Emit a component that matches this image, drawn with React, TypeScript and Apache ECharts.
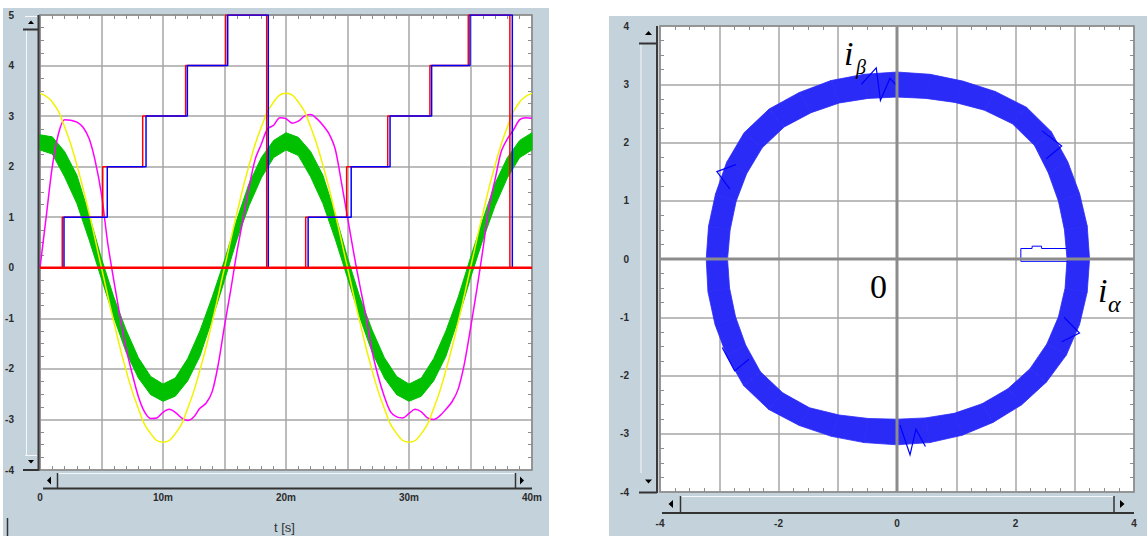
import React, { useEffect, useRef } from 'react';
import * as echarts from 'echarts';

// ---------------- Left chart (time domain) ----------------
const timeTickLabels = ['0', '', '10m', '', '20m', '', '30m', '', '40m']; // one per 5 ms
const ampTickLabels = ['-4', '-3', '-2', '-1', '0', '1', '2', '3', '4', '5'];

// yellow reference, sampled every 1 ms (0..40 ms)
const yellowValues = [
  3.45, 3.28, 2.79, 2.03, 1.07, 0, -1.07, -2.03, -2.79, -3.28,
  -3.45, -3.28, -2.79, -2.03, -1.07, 0, 1.07, 2.03, 2.79, 3.28,
  3.45, 3.28, 2.79, 2.03, 1.07, 0, -1.07, -2.03, -2.79, -3.28,
  -3.45, -3.28, -2.79, -2.03, -1.07, 0, 1.07, 2.03, 2.79, 3.28,
  3.45,
];

// magenta current, sampled every 0.5 ms (0..40 ms)
const magentaValues = [
  0.0, 1.0, 2.0, 2.65, 2.93, 2.92, 2.88, 2.78, 2.55, 2.1,
  1.45, 0.5, -0.25, -0.95, -1.6, -2.1, -2.55, -2.85, -2.98, -2.97,
  -2.86, -2.8, -2.86, -2.97, -3.02, -2.95, -2.78, -2.68, -2.45, -1.9,
  -1.15, -0.45, 0.3, 0.95, 1.6, 2.15, 2.45, 2.75, 2.82, 2.97,
  2.95, 2.86, 2.9, 3.0, 3.03, 2.95, 2.82, 2.65, 2.35, 1.7,
  1.0, 0.3, -0.35, -0.95, -1.65, -2.15, -2.55, -2.85, -2.95, -2.97,
  -2.88, -2.8, -2.85, -2.97, -3.0, -2.93, -2.8, -2.65, -2.4, -1.9,
  -1.2, -0.45, 0.35, 1.2, 1.75, 2.3, 2.55, 2.73, 2.93, 2.97,
  2.96,
];

// green noisy current: upper / lower envelope, every 1 ms
const greenUpper = [
  2.63, 2.59, 2.30, 1.83, 1.05, 0.18, -0.58, -1.23, -1.78, -2.15,
  -2.30, -2.18, -1.80, -1.25, -0.58, 0.15, 0.95, 1.67, 2.18, 2.52,
  2.67, 2.58, 2.30, 1.83, 1.07, 0.20, -0.58, -1.23, -1.78, -2.15,
  -2.30, -2.18, -1.80, -1.25, -0.58, 0.20, 0.95, 1.67, 2.18, 2.52,
  2.67,
];
const greenLower = [
  2.33, 2.25, 1.80, 1.27, 0.55, -0.22, -0.98, -1.67, -2.18, -2.51,
  -2.64, -2.54, -2.24, -1.75, -1.02, -0.25, 0.55, 1.23, 1.78, 2.18,
  2.33, 2.22, 1.80, 1.27, 0.57, -0.20, -0.98, -1.67, -2.18, -2.51,
  -2.64, -2.54, -2.24, -1.75, -1.02, -0.20, 0.55, 1.23, 1.78, 2.18,
  2.33,
];

// staircase signals
const stepLevels = [0, 1, 2, 3, 4, 5, 0, 1, 2, 3, 4, 5, 0, 0];
const redSwitchTimes = [0, 1.81, 5.1, 8.35, 11.84, 15.1, 18.43, 21.6, 24.93, 28.27, 31.7, 34.82, 38.2, 40];
const blueSwitchTimes = [0, 1.95, 5.47, 8.62, 11.98, 15.26, 18.56, 21.8, 25.3, 28.46, 31.84, 34.96, 38.4, 40];
const zeroLineTimes = [0, 40];

// ---------------- Right chart (i_alpha / i_beta) ----------------
const alphaTickLabels = ['-4', '', '-2', '', '0', '', '2', '', '4'];
const betaTickLabels = ['-4', '-3', '-2', '-1', '0', '1', '2', '3', '4'];

const ringAnglesDeg = [
  0, 10, 20, 30, 40, 50, 60, 70, 80, 90, 100, 110, 120, 130, 140, 150, 160, 170,
  180, 190, 200, 210, 220, 230, 240, 250, 260, 270, 280, 290, 300, 310, 320, 330, 340, 350,
];
const ringInner = [
  2.87, 2.87, 2.9, 2.95, 3.03, 3.03, 2.95, 2.86, 2.8, 2.78, 2.8, 2.85, 2.9, 2.96, 2.97, 2.93, 2.89, 2.86,
  2.86, 2.87, 2.9, 2.95, 3.01, 3.0, 2.95, 2.85, 2.78, 2.75, 2.77, 2.82, 2.87, 2.91, 2.93, 2.92, 2.9, 2.88,
];
const ringOuter = [
  3.25, 3.26, 3.28, 3.33, 3.4, 3.4, 3.32, 3.25, 3.22, 3.21, 3.22, 3.26, 3.3, 3.36, 3.37, 3.32, 3.26, 3.23,
  3.22, 3.24, 3.27, 3.32, 3.38, 3.37, 3.3, 3.24, 3.2, 3.19, 3.2, 3.22, 3.24, 3.27, 3.29, 3.3, 3.28, 3.26,
];

const spikePaths = [
  [[-0.6, 3.0], [-0.35, 3.28], [-0.28, 2.72], [-0.12, 3.1], [0.02, 2.95]],
  [[0.05, -2.85], [0.22, -3.36], [0.32, -2.92], [0.48, -3.22]],
  [[-2.82, 1.2], [-3.04, 1.5], [-2.72, 1.62]],
  [[2.45, 2.2], [2.78, 1.94], [2.52, 1.72]],
  [[2.82, -1.0], [3.08, -1.27], [2.78, -1.42]],
  [[-2.95, -1.52], [-2.74, -1.92], [-2.5, -1.72]],
];

const startupAlpha = [2.86, 2.44, 2.44, 2.28, 2.28, 2.09, 2.09, 2.88];
const startupBeta = [0.18, 0.18, 0.22, 0.22, 0.18, 0.18, -0.04, -0.04];

// ---------------- styling helpers ----------------
const PANEL = '#c4d2db';
const DARK = '#333';
const GRID = '#a6a6a6';
const TICK = '#8c8c8c';
const labelFont = { fontFamily: 'Liberation Sans, Arial, sans-serif', fontWeight: 'bold' as const, fontSize: 10, color: '#2b2b2b' };

const rect = (x: number, y: number, w: number, h: number, fill: string, z = -10) =>
  ({ type: 'rect', shape: { x, y, width: w, height: h }, style: { fill }, z, silent: true });
const ln = (x1: number, y1: number, x2: number, y2: number, stroke: string, lw = 1, z = 10) =>
  ({ type: 'line', shape: { x1, y1, x2, y2 }, style: { stroke, lineWidth: lw }, z, silent: true });
const tri = (points: number[][], z = 11) =>
  ({ type: 'polygon', shape: { points }, style: { fill: '#000' }, z, silent: true });
const txt = (x: number, y: number, text: string, font: string, align = 'left') =>
  ({ type: 'text', x, y, z: 20, silent: true, style: { text, font, fill: '#000', align, verticalAlign: 'middle' } });

function valueAxis(grid: number, pos: string, min: number, max: number, interval: number, minorSplit: number, labels: string[] | null, margin: number, split: boolean, axisColor: string, axisWidth: number) {
  return {
    type: 'value', gridIndex: grid, position: pos, min, max, interval,
    axisLine: { show: true, onZero: false, lineStyle: { color: axisColor, width: axisWidth } },
    axisTick: { show: false, inside: true },
    minorTick: { show: true, splitNumber: minorSplit, length: 4, lineStyle: { color: TICK, width: 1 } },
    minorSplitLine: { show: false },
    splitLine: { show: split, lineStyle: { color: GRID, width: 1.5 } },
    axisLabel: labels
      ? { show: true, margin, ...labelFont, showMinLabel: true, showMaxLabel: true, hideOverlap: false,
          formatter: (v: number) => labels[Math.round((v - min) / interval)] ?? '' }
      : { show: false },
  };
}

export default function App() {
  const ref = useRef<HTMLDivElement>(null);

  useEffect(() => {
    if (!ref.current) return;
    const chart = echarts.init(ref.current, undefined, { renderer: 'svg' });

    const magentaData = magentaValues.map((v, i) => [i * 0.5, v]);
    const yellowData = yellowValues.map((v, i) => [i, v]);
    const redData = redSwitchTimes.map((t, i) => [t, stepLevels[i]]);
    const blueData = blueSwitchTimes.map((t, i) => [t, stepLevels[i]]);
    const zeroData = zeroLineTimes.map((t) => [t, 0]);
    const startupData = startupAlpha.map((a, i) => [a, startupBeta[i]]);
    const ringData = ringAnglesDeg.map((_, i) => [0, 0, i]);

    const decor: any[] = [
      // panels
      rect(3, 8, 546, 528, PANEL),
      rect(609, 16, 538, 520, PANEL),
      // ---- left vertical scrollbar
      ln(26.5, 29, 26.5, 455, '#f4f8fa', 1),
      ln(25, 16.5, 37, 16.5, '#f4f8fa', 1),
      tri([[28, 24], [34, 24], [31, 20.5]]),
      ln(23, 29.5, 38, 29.5, DARK, 2),
      ln(25, 455.5, 37, 455.5, '#f4f8fa', 1),
      tri([[28, 460], [34, 460], [31, 463.5]]),
      ln(23, 470, 38, 470, DARK, 2),
      ln(38.5, 15, 38.5, 471, '#3a3a3a', 2),
      // ---- left horizontal scrollbar
      ln(57, 473.5, 515, 473.5, '#f4f8fa', 1),
      tri([[51, 476.5], [51, 484.5], [47, 480.5]]),
      ln(57.5, 473, 57.5, 488, DARK, 1.5),
      tri([[520, 476.5], [520, 484.5], [524, 480.5]]),
      ln(515.5, 473, 515.5, 488, DARK, 1.5),
      ln(43, 488.5, 532, 488.5, DARK, 2),
      ln(7.5, 518, 7.5, 536, DARK, 1.5),
      // ---- right vertical scrollbar
      ln(641, 43, 641, 473, '#f4f8fa', 1),
      tri([[645, 35], [652, 35], [648.5, 31]]),
      ln(639, 43.5, 657, 43.5, DARK, 2),
      tri([[645, 479.5], [652, 479.5], [648.5, 483.5]]),
      ln(639, 492.5, 657, 492.5, DARK, 2),
      ln(657, 26, 657, 493, '#3a3a3a', 2),
      // ---- right horizontal scrollbar
      ln(680, 496.5, 1114, 496.5, '#f4f8fa', 1),
      tri([[673, 500], [673, 508], [668.5, 504]]),
      ln(680.5, 496, 680.5, 513, DARK, 1.5),
      tri([[1120, 500], [1120, 508], [1124.5, 504]]),
      ln(1114, 496, 1114, 513, DARK, 1.5),
      ln(662, 513, 1134, 513, DARK, 2),
      // ---- texts
      { type: 'text', x: 284.5, y: 527.5, z: 20, silent: true,
        style: { text: 't [s]', font: '13px "Liberation Sans", Arial, sans-serif', fill: '#333', align: 'center', verticalAlign: 'middle' } },
      txt(844, 53.5, 'i', 'italic 34px "Liberation Serif", "DejaVu Serif", serif'),
      txt(856, 67, 'β', 'italic 20px "Liberation Serif", "DejaVu Serif", serif'),
      txt(878.5, 286.5, '0', '34px "Liberation Serif", "DejaVu Serif", serif', 'center'),
      txt(1098, 290.5, 'i', 'italic 34px "Liberation Serif", "DejaVu Serif", serif'),
      txt(1108, 304, 'α', 'italic 24px "Liberation Serif", "DejaVu Serif", serif'),
    ];

    const option: any = {
      animation: false,
      backgroundColor: '#ffffff',
      graphic: { elements: decor },
      grid: [
        { left: 40, top: 15, width: 492, height: 455, show: true, backgroundColor: '#fff', borderWidth: 0, outerBoundsMode: 'none', containLabel: false },
        { left: 660, top: 26, width: 474, height: 466, show: true, backgroundColor: '#fff', borderWidth: 0, outerBoundsMode: 'none', containLabel: false },
      ],
      xAxis: [
        valueAxis(0, 'bottom', 0, 40, 5, 5, timeTickLabels, 22, true, '#8a8a8a', 1.5),
        valueAxis(0, 'top', 0, 40, 5, 5, null, 0, false, '#8a8a8a', 1.5),
        valueAxis(1, 'bottom', -4, 4, 1, 4, alphaTickLabels, 26, true, '#8a8a8a', 1.5),
        valueAxis(1, 'top', -4, 4, 1, 4, null, 0, false, '#8a8a8a', 1.5),
      ],
      yAxis: [
        valueAxis(0, 'left', -4, 5, 1, 4, ampTickLabels, 26, true, '#8a8a8a', 1.5),
        valueAxis(0, 'right', -4, 5, 1, 4, null, 0, false, '#8a8a8a', 1.5),
        valueAxis(1, 'left', -4, 4, 1, 4, betaTickLabels, 31, true, '#8a8a8a', 1.5),
        valueAxis(1, 'right', -4, 4, 1, 4, null, 0, false, '#8a8a8a', 1.5),
      ],
      series: [
        // ---- left
        {
          type: 'custom', name: 'green', xAxisIndex: 0, yAxisIndex: 0, z: 2, silent: true,
          data: [[20, 0]],
          renderItem: (_p: any, api: any) => {
            const pts: number[][] = [];
            greenUpper.forEach((v, i) => pts.push(api.coord([i, v])));
            for (let i = greenLower.length - 1; i >= 0; i--) pts.push(api.coord([i, greenLower[i]]));
            return { type: 'polygon', shape: { points: pts }, style: { fill: '#00c000', stroke: '#00c000', lineWidth: 1 } };
          },
        },
        { type: 'line', name: 'magenta', xAxisIndex: 0, yAxisIndex: 0, z: 3, data: magentaData, showSymbol: false, symbol: 'none', smooth: 0.3,
          lineStyle: { color: '#ff00ff', width: 1.5 } },
        { type: 'line', name: 'yellow', xAxisIndex: 0, yAxisIndex: 0, z: 4, data: yellowData, showSymbol: false, symbol: 'none', smooth: true,
          lineStyle: { color: '#f2f200', width: 1.5 } },
        { type: 'line', name: 'red', xAxisIndex: 0, yAxisIndex: 0, z: 5, data: redData, step: 'end', showSymbol: false, symbol: 'none',
          lineStyle: { color: '#ff0000', width: 1.5 } },
        { type: 'line', name: 'blue', xAxisIndex: 0, yAxisIndex: 0, z: 6, data: blueData, step: 'end', showSymbol: false, symbol: 'none',
          lineStyle: { color: '#0000ff', width: 1.5 } },
        { type: 'line', name: 'zero', xAxisIndex: 0, yAxisIndex: 0, z: 7, data: zeroData, showSymbol: false, symbol: 'none',
          lineStyle: { color: '#ff0000', width: 2.5 } },
        // ---- right
        {
          type: 'custom', name: 'ring', xAxisIndex: 2, yAxisIndex: 2, z: 2, silent: true,
          data: ringData,
          renderItem: (p: any, api: any) => {
            const n = ringAnglesDeg.length;
            const i = p.dataIndex;
            const j = (i + 1) % n;
            const a0 = (ringAnglesDeg[i] * Math.PI) / 180;
            const a1 = ((ringAnglesDeg[j] + (j === 0 ? 360 : 0)) * Math.PI) / 180;
            const pts = [
              [ringOuter[i] * Math.cos(a0), ringOuter[i] * Math.sin(a0)],
              [ringOuter[j] * Math.cos(a1), ringOuter[j] * Math.sin(a1)],
              [ringInner[j] * Math.cos(a1), ringInner[j] * Math.sin(a1)],
              [ringInner[i] * Math.cos(a0), ringInner[i] * Math.sin(a0)],
            ].map((q) => api.coord(q));
            return { type: 'polygon', shape: { points: pts }, style: { fill: '#2b2bf7', stroke: '#2b2bf7', lineWidth: 0.8 } };
          },
        },
        {
          type: 'custom', name: 'spikes', xAxisIndex: 2, yAxisIndex: 2, z: 3, silent: true,
          data: spikePaths.map((_, i) => [0, 0, i]),
          renderItem: (p: any, api: any) => ({
            type: 'polyline',
            shape: { points: spikePaths[p.dataIndex].map((q) => api.coord(q)) },
            style: { stroke: '#0000ff', lineWidth: 1.2, fill: 'none' },
          }),
        },
        { type: 'line', name: 'startup', xAxisIndex: 2, yAxisIndex: 2, z: 3, data: startupData, showSymbol: false, symbol: 'none',
          lineStyle: { color: '#0000ff', width: 1 } },
        { type: 'line', name: 'axisH', xAxisIndex: 2, yAxisIndex: 2, z: 4, data: [[-4, 0], [4, 0]], showSymbol: false, symbol: 'none', silent: true,
          lineStyle: { color: '#8c8c8c', width: 3 } },
        { type: 'line', name: 'axisV', xAxisIndex: 2, yAxisIndex: 2, z: 4, data: [[0, -4], [0, 4]], showSymbol: false, symbol: 'none', silent: true,
          lineStyle: { color: '#8c8c8c', width: 3 } },
      ],
    };

    chart.setOption(option);
    return () => chart.dispose();
  }, []);

  return <div ref={ref} style={{ position: 'absolute', left: 0, top: 0, width: 1147, height: 536 }} />;
}
